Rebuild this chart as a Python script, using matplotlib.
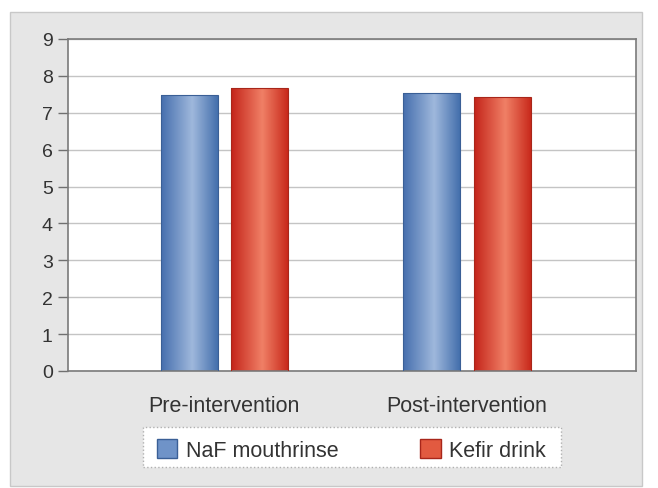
import numpy as np
import matplotlib.pyplot as plt
from matplotlib.patches import Rectangle, Patch
from matplotlib.colors import LinearSegmentedColormap

plt.rcParams['font.family'] = ['Liberation Sans', 'DejaVu Sans']

# data
groups = ['Pre-intervention', 'Post-intervention']
series = ['NaF mouthrinse', 'Kefir drink']
naf = [7.49, 7.54]
kefir = [7.67, 7.42]
yticks = list(range(0, 10))

blue_cm = LinearSegmentedColormap.from_list('b', [(0, '#466fae'), (0.55, '#9fb8dc'), (1, '#4570ad')])
red_cm = LinearSegmentedColormap.from_list('r', [(0, '#c4241a'), (0.55, '#f08066'), (1, '#c92a1c')])

fig = plt.figure(figsize=(6.58, 4.89), dpi=100)
fig.patch.set_facecolor('white')
# grey panel behind everything
fig.patches.append(Rectangle((10/658, 2/489), 632/658, 474/489, transform=fig.transFigure,
                             facecolor='#e6e6e6', edgecolor='#c8c8c8', lw=1, zorder=-10))

ax = fig.add_axes([68/658, 1 - 372/489, 568/658, 332/489])
ax.set_facecolor('white')

x = np.arange(len(groups))
w = 0.235
gap = 0.054
grad = np.linspace(0, 1, 100).reshape(1, -1)


def gbar(xc, h, cmap, edge):
    rect = Rectangle((xc - w / 2, 0), w, h, facecolor='none', edgecolor=edge, lw=0.8, zorder=3)
    ax.add_patch(rect)
    im = ax.imshow(grad, cmap=cmap, aspect='auto', extent=(xc - w / 2, xc + w / 2, 0, h), zorder=2)
    im.set_clip_path(rect)


for i in range(len(groups)):
    gbar(x[i] - (w + gap) / 2, naf[i], blue_cm, '#3a5f96')
    gbar(x[i] + (w + gap) / 2, kefir[i], red_cm, '#a8261a')

ax.set_xlim(-0.645, 1.697)
ax.set_ylim(0, 9)
ax.set_yticks(yticks)
ax.set_yticklabels([str(t) for t in yticks], fontsize=14, color='#333333')
ax.set_xticks(x)
ax.set_xticklabels(groups, fontsize=15.5, color='#333333')
ax.tick_params(axis='x', length=0, pad=17)
ax.tick_params(axis='y', length=7, width=1, color='#707070', pad=4)
ax.yaxis.grid(True, color='#c4c4c4', lw=1)
ax.set_axisbelow(True)
for s in ax.spines.values():
    s.set_color('#7a7a7a')
    s.set_linewidth(1.2)

# legend frame drawn separately so the inner padding can match
fig.patches.append(Rectangle((143/658, 1 - 468/489), 418/658, 40/489, transform=fig.transFigure,
                             facecolor='white', edgecolor='#b0b0b0', lw=1, ls=':', zorder=-5))
handles = [Patch(facecolor='#6f93c8', edgecolor='#3a5f96'),
           Patch(facecolor='#e25a40', edgecolor='#a8261a')]
leg = fig.legend(handles, series, loc='center', ncol=2, mode='expand',
                 bbox_to_anchor=(157/658, 1 - 471/489, 389/658, 40/489),
                 fontsize=15.5, frameon=False, handlelength=0.95, handleheight=0.95,
                 handletextpad=0.4, borderpad=0, borderaxespad=0)
for t in leg.get_texts():
    t.set_color('#333333')

fig.savefig('out.png', dpi=100)
